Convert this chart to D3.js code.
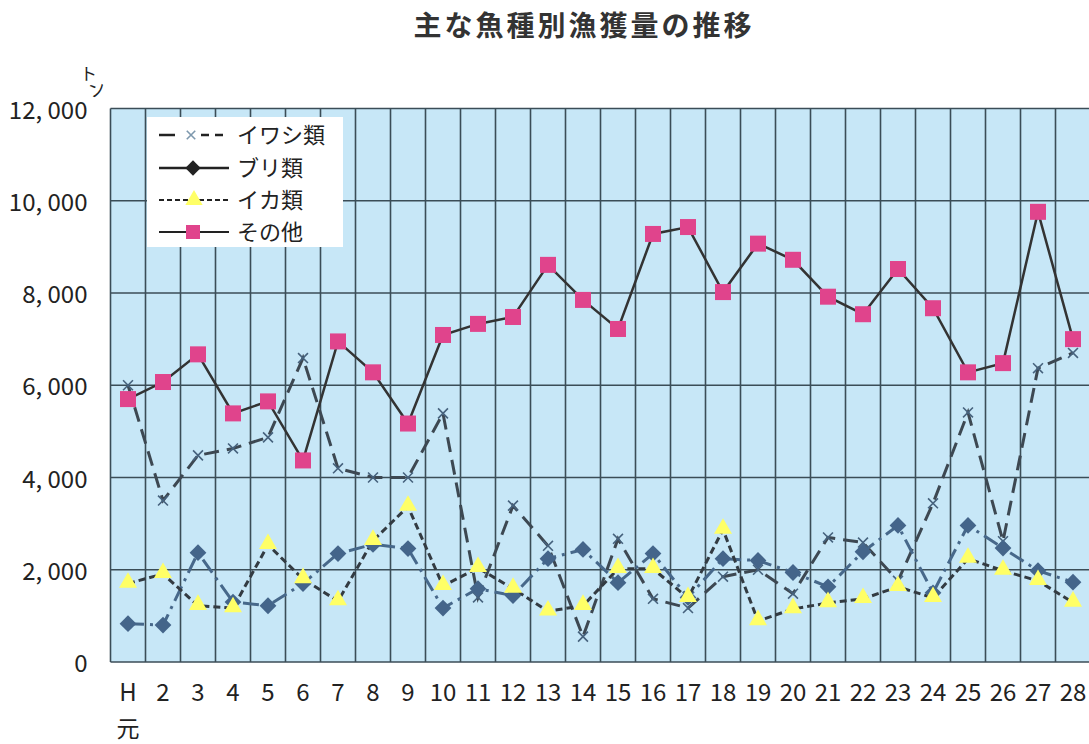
<!DOCTYPE html>
<html>
<head>
<meta charset="utf-8">
<script src="https://cdn.jsdelivr.net/npm/d3@7"></script>
<style>
  body { margin: 0; background: #fff; }
  text { font-family: "Noto Sans CJK JP", "Noto Sans", sans-serif; fill: #222; }
</style>
</head>
<body>
<div id="chart"></div>
<script>
// Categories (Heisei years) and series values in tonnes
const years = ["H元", "2", "3", "4", "5", "6", "7", "8", "9", "10", "11", "12", "13", "14",
  "15", "16", "17", "18", "19", "20", "21", "22", "23", "24", "25", "26", "27", "28"];
const iwashi = [6000, 3500, 4480, 4630, 4870, 6590, 4200, 4000, 4000, 5390, 1400, 3390, 2520, 550,
  2670, 1370, 1170, 1850, 2000, 1480, 2700, 2590, 1760, 3440, 5410, 2620, 6370, 6700];
const buri = [830, 800, 2370, 1300, 1220, 1700, 2350, 2550, 2460, 1170, 1590, 1440, 2240, 2440,
  1720, 2350, 1400, 2240, 2200, 1940, 1630, 2390, 2960, 1500, 2960, 2470, 1980, 1730];
const ika = [1700, 1910, 1220, 1170, 2540, 1800, 1320, 2630, 3370, 1650, 2040, 1590, 1100, 1220,
  2020, 2020, 1390, 2870, 890, 1150, 1280, 1370, 1630, 1390, 2240, 1980, 1760, 1290];
const sonota = [5700, 6070, 6670, 5390, 5650, 4370, 6950, 6280, 5170, 7090, 7330, 7480, 8610, 7850,
  7220, 9280, 9430, 8020, 9070, 8720, 7920, 7540, 8520, 7670, 6280, 6480, 9760, 7000];
const yTicks = [0, 2000, 4000, 6000, 8000, 10000, 12000];
const seriesNames = ["イワシ類", "ブリ類", "イカ類", "その他"];

const W = 1089, H = 744;
const svg = d3.select("#chart").append("svg")
  .attr("width", W)
  .attr("height", H);

// Plot area
const plot = { left: 110.5, right: 1090.5, top: 108.5, bottom: 662 };

const x = d3.scaleBand()
  .domain(years)
  .range([plot.left, plot.right]);
const y = d3.scaleLinear()
  .domain([0, 12000])
  .range([plot.bottom, plot.top]);

// Title
svg.append("text")
  .attr("x", 584)
  .attr("y", 36)
  .attr("text-anchor", "middle")
  .attr("font-size", 28)
  .attr("font-weight", "bold")
  .attr("letter-spacing", 3)
  .style("fill", "#333")
  .text("主な魚種別漁獲量の推移");

// Background of plot
svg.append("rect")
  .attr("x", plot.left)
  .attr("y", plot.top)
  .attr("width", plot.right - plot.left)
  .attr("height", plot.bottom - plot.top)
  .attr("fill", "#c7e7f7");

// Grid: horizontal at y ticks, vertical at category boundaries
const grid = svg.append("g").attr("stroke", "#3b4d57").attr("stroke-width", 1.6);
grid.selectAll("line.h").data(yTicks).join("line")
  .attr("class", "h")
  .attr("x1", plot.left).attr("x2", plot.right)
  .attr("y1", d => y(d)).attr("y2", d => y(d));
grid.selectAll("line.v").data(years).join("line")
  .attr("class", "v")
  .attr("x1", d => x(d)).attr("x2", d => x(d))
  .attr("y1", plot.top).attr("y2", plot.bottom);

// Y axis labels
const yAxis = svg.append("g")
  .attr("transform", `translate(${plot.left - 20},0)`)
  .call(d3.axisLeft(y).tickValues(yTicks).tickSize(0)
    .tickFormat(d => d3.format(",")(d).replace(",", ", ")));
yAxis.select(".domain").remove();
yAxis.selectAll("text")
  .attr("font-size", 24)
  .attr("font-family", "Noto Sans CJK JP")
  .attr("dy", "0.4em")
  .style("fill", "#222");

// Unit
svg.append("text").attr("x", 80).attr("y", 80).attr("font-size", 17).text("ト");
svg.append("text").attr("transform", "translate(91,98) rotate(-20)").attr("font-size", 17).text("ン");

// X axis labels
const xAxis = svg.append("g")
  .attr("transform", `translate(0,${plot.bottom})`)
  .call(d3.axisBottom(x).tickSize(0).tickFormat(d => d === "H元" ? "H" : d));
xAxis.select(".domain").remove();
xAxis.selectAll("text")
  .attr("font-size", 24)
  .attr("font-family", "Noto Sans CJK JP")
  .attr("y", 22)
  .style("fill", "#222");
xAxis.append("text")
  .attr("x", x("H元") + x.bandwidth() / 2)
  .attr("y", 75)
  .attr("text-anchor", "middle")
  .attr("font-size", 23)
  .style("fill", "#222")
  .text("元");

const cx = (d, i) => x(years[i]) + x.bandwidth() / 2;
const line = d3.line().x(cx).y(d => y(d));

// Series styles
const styles = [
  { data: iwashi, stroke: "#3d4852", dash: "15,8", width: 3 },
  { data: buri, stroke: "#47688a", dash: "16,6,3,6", width: 3 },
  { data: ika, stroke: "#333b42", dash: "7,4", width: 3 },
  { data: sonota, stroke: "#333", dash: null, width: 2.5 }
];

const series = svg.append("g");
styles.forEach(s => {
  series.append("path")
    .datum(s.data)
    .attr("fill", "none")
    .attr("stroke", s.stroke)
    .attr("stroke-width", s.width)
    .attr("stroke-dasharray", s.dash)
    .attr("d", line);
});

// Markers
const sym = (type, size) => d3.symbol().type(type).size(size)();
series.append("g").selectAll("path").data(iwashi).join("path")
  .attr("transform", (d, i) => `translate(${cx(d, i)},${y(d)}) rotate(45)`)
  .attr("fill", "none")
  .attr("stroke", "#46627d")
  .attr("stroke-width", 1.6)
  .attr("d", "M-7,0H7M0,-7V7");
series.append("g").selectAll("path").data(buri).join("path")
  .attr("transform", (d, i) => `translate(${cx(d, i)},${y(d)})`)
  .attr("d", sym(d3.symbolDiamond2, 180))
  .attr("fill", "#44658a");
series.append("g").selectAll("path").data(ika).join("path")
  .attr("transform", (d, i) => `translate(${cx(d, i)},${y(d) - 1})`)
  .attr("d", sym(d3.symbolTriangle, 140))
  .attr("fill", "#ffff66");
series.append("g").selectAll("rect").data(sonota).join("rect")
  .attr("x", (d, i) => cx(d, i) - 8)
  .attr("y", d => y(d) - 8)
  .attr("width", 16)
  .attr("height", 16)
  .attr("fill", "#e0448c");

// Legend
const legend = svg.append("g").attr("transform", "translate(147,117)");
legend.append("rect")
  .attr("width", 196)
  .attr("height", 130)
  .attr("fill", "#fff");
const ly = [18, 51, 83, 115];
const lItems = legend.selectAll("g").data(seriesNames).join("g")
  .attr("transform", (d, i) => `translate(0,${ly[i]})`);
lItems.append("text")
  .attr("x", 90)
  .attr("dy", "0.35em")
  .attr("font-size", 22)
  .style("fill", "#222")
  .text(d => d);
// イワシ類 sample
const l0 = d3.select(lItems.nodes()[0]);
l0.append("line").attr("x1", 12).attr("x2", 28).attr("stroke", "#222").attr("stroke-width", 2.5);
l0.append("line").attr("x1", 54).attr("x2", 82).attr("stroke", "#222").attr("stroke-width", 2.5)
  .attr("stroke-dasharray", "8,6");
l0.append("path").attr("transform", "translate(44,0) rotate(45)")
  .attr("d", "M-6,0H6M0,-6V6").attr("stroke", "#7d98ad").attr("stroke-width", 1.6);
// ブリ類 sample
const l1 = d3.select(lItems.nodes()[1]);
l1.append("line").attr("x1", 12).attr("x2", 82).attr("stroke", "#222").attr("stroke-width", 2.5);
l1.append("path").attr("transform", "translate(46,0)").attr("d", sym(d3.symbolDiamond2, 150)).attr("fill", "#222");
// イカ類 sample
const l2 = d3.select(lItems.nodes()[2]);
l2.append("line").attr("x1", 12).attr("x2", 82).attr("stroke", "#222").attr("stroke-width", 2)
  .attr("stroke-dasharray", "5,3");
l2.append("path").attr("transform", "translate(47,0)").attr("d", sym(d3.symbolTriangle, 130)).attr("fill", "#ffff66");
// その他 sample
const l3 = d3.select(lItems.nodes()[3]);
l3.append("line").attr("x1", 12).attr("x2", 82).attr("stroke", "#222").attr("stroke-width", 2);
l3.append("rect").attr("x", 39).attr("y", -7).attr("width", 14).attr("height", 14).attr("fill", "#e0448c");
</script>
</body>
</html>
